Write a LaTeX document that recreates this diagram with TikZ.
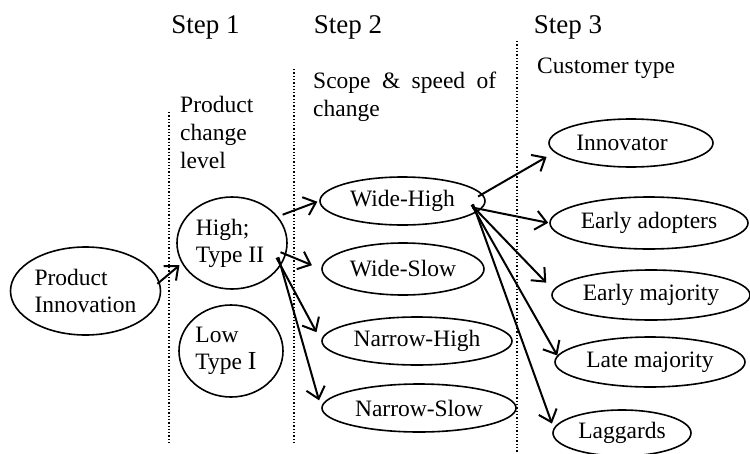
\documentclass[tikz,border=0pt]{standalone}
\usepackage{fontspec}
\setmainfont{Liberation Serif}
\usetikzlibrary{shapes.geometric,arrows.meta}

\tikzset{
  oval/.style={ellipse, draw, line width=1.6pt, inner sep=0pt, align=left,
    font=\fontsize{23.5}{27}\selectfont},
  link/.style={line width=2pt,
    -{Straight Barb[length=11pt,width=19pt]}},
  divider/.style={dotted, line width=1.3pt},
  steplabel/.style={font=\fontsize{27}{30}\selectfont, inner sep=0pt, anchor=base},
  colhead/.style={font=\fontsize{23.5}{28}\selectfont, inner sep=0pt,
    align=left, anchor=north west}
}

\begin{document}
\begin{tikzpicture}[x=1pt, y=-1pt]
\useasboundingbox (0,0) rectangle (750,453);

% step titles
\node[steplabel] (s1) at (205.5,33) {Step 1};
\node[steplabel] (s2) at (348,33) {Step 2};
\node[steplabel] (s3) at (568,33) {Step 3};

% column dividers
\draw[divider] (169,112) -- (169,445);
\draw[divider] (294,69) -- (294,445);
\draw[divider] (517,41) -- (517,453);

% column headings
\node[colhead] (h1) at (180,95.5) {Product\\change\\level};
\node[colhead, text width=183pt, align=justify] (h2) at (313,71.5)
  {\hyphenpenalty=10000 Scope \& speed of change};
\node[colhead] (h3) at (537,58) {Customer type};

% innovation and product change level
\node[oval, minimum width=150pt, minimum height=88pt] (pi) at (85.5,291) {Product\\Innovation};
\node[oval, minimum width=110pt, minimum height=92pt] (hi) at (232,243) {High;\\Type II\hspace*{4pt}};
\node[oval, minimum width=104pt, minimum height=92pt] (lo) at (231,351)
  {Low\\Type {\fontsize{26}{27}\selectfont I}\hspace*{10pt}};

% scope and speed of change
\node[oval, minimum width=165pt, minimum height=48pt] (wh) at (402.5,201) {Wide-High};
\node[oval, minimum width=162pt, minimum height=52pt] (ws) at (403,269) {Wide-Slow};
\node[oval, minimum width=190pt, minimum height=48pt] (nh) at (417,341) {Narrow-High};
\node[oval, minimum width=194pt, minimum height=48pt] (ns) at (419,408) {Narrow-Slow};

% customer types
\node[oval, minimum width=164pt, minimum height=48pt] (inn) at (631,143) {Innovator\hspace*{18pt}};
\node[oval, minimum width=198pt, minimum height=52pt] (ea) at (649,223) {Early adopters};
\node[oval, minimum width=198pt, minimum height=50pt] (em) at (651,295) {Early majority};
\node[oval, minimum width=190pt, minimum height=50pt] (lm) at (650,362) {Late majority};
\node[oval, minimum width=138pt, minimum height=46pt] (lag) at (622,433) {Laggards};

% connectors
\draw[link, shorten <=-3pt, shorten >=3pt] (pi.7) -- (hi.202);

\draw[link, shorten <=5pt, shorten >=2pt] (hi.30) -- (wh.west);
\draw[link, shorten <=-6pt, shorten >=10pt] (hi.-12) -- (ws.west);
\draw[link, shorten <=-9pt, shorten >=10pt] (hi.-25) -- (nh.west);
\draw[link, shorten <=-9pt, shorten >=8pt] (hi.-25) -- (ns.west);

\draw[link, shorten <=-5pt, shorten >=9pt] (wh.5) -- (inn.187);
\draw[link, shorten <=-9pt, shorten >=1pt] (wh.-6) -- (ea.west);
\draw[link, shorten <=-9pt, shorten >=10pt] (wh.-8) -- (em.177);
\draw[link, shorten <=-9pt, shorten >=0pt] (wh.-9) -- (lm.176);
\draw[link, shorten <=-9pt, shorten >=5pt] (wh.-9) -- (lag.176);

\end{tikzpicture}
\end{document}
